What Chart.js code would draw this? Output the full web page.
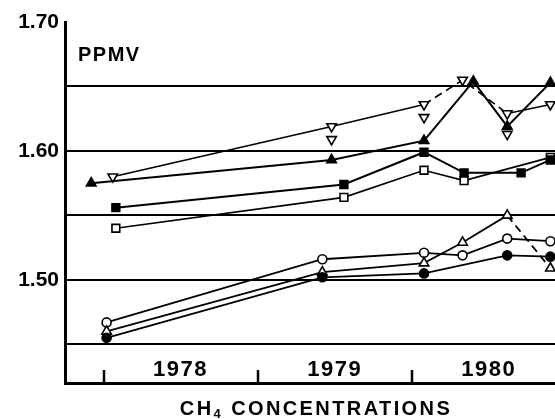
<!DOCTYPE html>
<html>
<head>
<meta charset="utf-8">
<script src="https://cdn.jsdelivr.net/npm/chart.js@4.4.1/dist/chart.umd.min.js"></script>
<style>
html,body{margin:0;padding:0;background:#fff;}
#wrap{width:555px;height:419px;}
</style>
</head>
<body>
<div id="wrap"><canvas id="c" width="555" height="419"></canvas></div>
<script>
// ---- data (decimal year, ppmv) ----
const upTriDates   = [1977.92, 1979.48, 1980.08, 1980.40, 1980.62, 1980.90];
const upTriPpmv    = [1.575, 1.593, 1.608, 1.654, 1.619, 1.653];

const downTriDates = [1978.06, 1979.48, 1980.08, 1980.33, 1980.62, 1980.90];
const downTriPpmv  = [1.580, 1.619, 1.636, 1.655, 1.629, 1.636];
const downTriDupDates = [1979.48, 1980.08, 1980.62];
const downTriDupPpmv  = [1.609, 1.626, 1.613];

const fillSqDates  = [1978.08, 1979.56, 1980.08, 1980.34, 1980.71, 1980.90];
const fillSqPpmv   = [1.556, 1.574, 1.599, 1.583, 1.583, 1.593];
const openSqDates  = [1978.08, 1979.56, 1980.08, 1980.34, 1980.90];
const openSqPpmv   = [1.540, 1.564, 1.585, 1.577, 1.595];

const openCircDates = [1978.02, 1979.42, 1980.08, 1980.33, 1980.62, 1980.90];
const openCircPpmv  = [1.467, 1.516, 1.521, 1.519, 1.532, 1.530];
const openTriDates  = [1978.02, 1979.42, 1980.08, 1980.33, 1980.62, 1980.90];
const openTriPpmv   = [1.460, 1.506, 1.513, 1.529, 1.550, 1.509];
const fillCircDates = [1978.02, 1979.42, 1980.08, 1980.62, 1980.90];
const fillCircPpmv  = [1.455, 1.502, 1.505, 1.519, 1.518];

const yTickValues = [1.45, 1.50, 1.55, 1.60, 1.65, 1.70];
const yearTicks   = [1978, 1979, 1980];
const yearLabels  = ['1978', '1979', '1980'];
const unitLabel   = 'PPMV';
const axisTitle   = ['CH', '4', ' CONCENTRATIONS'];

// ---- helpers ----
const pts = (xs, ys) => xs.map((x, i) => ({x: x, y: ys[i]}));
const FONT = '"Liberation Sans", Arial, sans-serif';

function series(xs, ys, style, extra) {
  return Object.assign({
    data: pts(xs, ys),
    borderColor: '#000',
    borderWidth: 2,
    pointBorderColor: '#000',
    pointBorderWidth: 1.6,
    showLine: true,
    tension: 0,
    clip: false
  }, style, extra || {});
}

const dashSeg = (from, to) => ({
  borderDash: ctx => (ctx.p0DataIndex >= from && ctx.p0DataIndex <= to) ? [8, 5] : undefined
});

const datasets = [
  series(fillSqDates, fillSqPpmv, {pointStyle: 'rect', pointRadius: 5.5, pointBackgroundColor: '#000'}),
  series(openSqDates, openSqPpmv, {pointStyle: 'rect', pointRadius: 5.5, pointBackgroundColor: '#fff', borderWidth: 1.6}),
  series(upTriDates, upTriPpmv, {pointStyle: 'triangle', pointRadius: 5.5, pointBackgroundColor: '#000'}),
  series(downTriDates, downTriPpmv, {pointStyle: 'triangle', pointRotation: 180, pointRadius: 5.5, pointBackgroundColor: '#fff', borderWidth: 1.6, segment: dashSeg(2, 3)}),
  series(downTriDupDates, downTriDupPpmv, {pointStyle: 'triangle', pointRotation: 180, pointRadius: 5.5, pointBackgroundColor: '#fff', showLine: false}),
  series(fillCircDates, fillCircPpmv, {pointStyle: 'circle', pointRadius: 4.5, pointBackgroundColor: '#000', borderWidth: 1.8}),
  series(openTriDates, openTriPpmv, {pointStyle: 'triangle', pointRadius: 5.5, pointBackgroundColor: '#fff', borderWidth: 1.8, segment: dashSeg(4, 4)}),
  series(openCircDates, openCircPpmv, {pointStyle: 'circle', pointRadius: 4.5, pointBackgroundColor: '#fff', borderWidth: 1.8})
];

// draws the inward year ticks, year labels, unit label and axis title
const decorPlugin = {
  id: 'decor',
  afterDraw(chart) {
    const ctx = chart.ctx;
    const xs = chart.scales.x, ys = chart.scales.y;
    const bottom = chart.chartArea.bottom;
    ctx.save();
    ctx.strokeStyle = '#000';
    ctx.lineWidth = 2.5;
    yearTicks.forEach(t => {
      const px = Math.round(xs.getPixelForValue(t));
      ctx.beginPath();
      ctx.moveTo(px, bottom);
      ctx.lineTo(px, bottom - 13);
      ctx.stroke();
    });
    ctx.fillStyle = '#000';
    ctx.textBaseline = 'middle';
    ctx.textAlign = 'center';
    ctx.font = 'bold 22px ' + FONT;
    if ('letterSpacing' in ctx) ctx.letterSpacing = '1.5px';
    yearTicks.forEach((t, i) => {
      ctx.fillText(yearLabels[i], xs.getPixelForValue(t + 0.5), bottom - 13);
    });
    // unit label
    ctx.textAlign = 'left';
    ctx.font = 'bold 20px ' + FONT;
    if ('letterSpacing' in ctx) ctx.letterSpacing = '1.5px';
    ctx.fillText(unitLabel, xs.left + 13, ys.getPixelForValue(1.65) - 31);
    // axis title with subscript
    const big = 'bold 20px ' + FONT, small = 'bold 13px ' + FONT;
    if ('letterSpacing' in ctx) ctx.letterSpacing = '2.4px';
    ctx.font = big; const w1 = ctx.measureText(axisTitle[0]).width;
    ctx.font = small; const w2 = ctx.measureText(axisTitle[1]).width;
    ctx.font = big; const w3 = ctx.measureText(axisTitle[2]).width;
    const total = w1 + w2 + w3;
    let x0 = (xs.left + chart.width) / 2 + 6 - total / 2;
    const yT = 409;
    ctx.textBaseline = 'middle';
    ctx.font = big; ctx.fillText(axisTitle[0], x0, yT);
    ctx.font = small; ctx.fillText(axisTitle[1], x0 + w1, yT + 5);
    ctx.font = big; ctx.fillText(axisTitle[2], x0 + w1 + w2, yT);
    ctx.restore();
  }
};

new Chart(document.getElementById('c'), {
  type: 'scatter',
  data: {datasets: datasets},
  options: {
    responsive: false,
    animation: false,
    devicePixelRatio: 1,
    layout: {autoPadding: false, padding: {top: 22, right: 0, left: 0, bottom: 0}},
    plugins: {legend: {display: false}, tooltip: {enabled: false}},
    scales: {
      x: {
        type: 'linear',
        min: 1977.75,
        max: 1980.93,
        grid: {display: false, drawTicks: false},
        border: {display: true, color: '#000', width: 3},
        ticks: {display: false},
        afterFit: s => { s.height = 36; }
      },
      y: {
        type: 'linear',
        min: 1.42,
        max: 1.70,
        afterBuildTicks: s => { s.ticks = yTickValues.map(v => ({value: v})); },
        afterFit: s => { s.width = 65; },
        grid: {
          color: c => (c.tick && Math.abs(c.tick.value - 1.70) < 1e-6) ? 'rgba(0,0,0,0)' : '#000',
          lineWidth: 2,
          drawTicks: false
        },
        border: {display: true, color: '#000', width: 3},
        ticks: {
          padding: 6,
          color: '#000',
          font: {family: FONT, size: 21, weight: 'bold'},
          callback: v => (Math.abs(v * 10 - Math.round(v * 10)) < 1e-6) ? v.toFixed(2) : ''
        }
      }
    }
  },
  plugins: [decorPlugin]
});
</script>
</body>
</html>
